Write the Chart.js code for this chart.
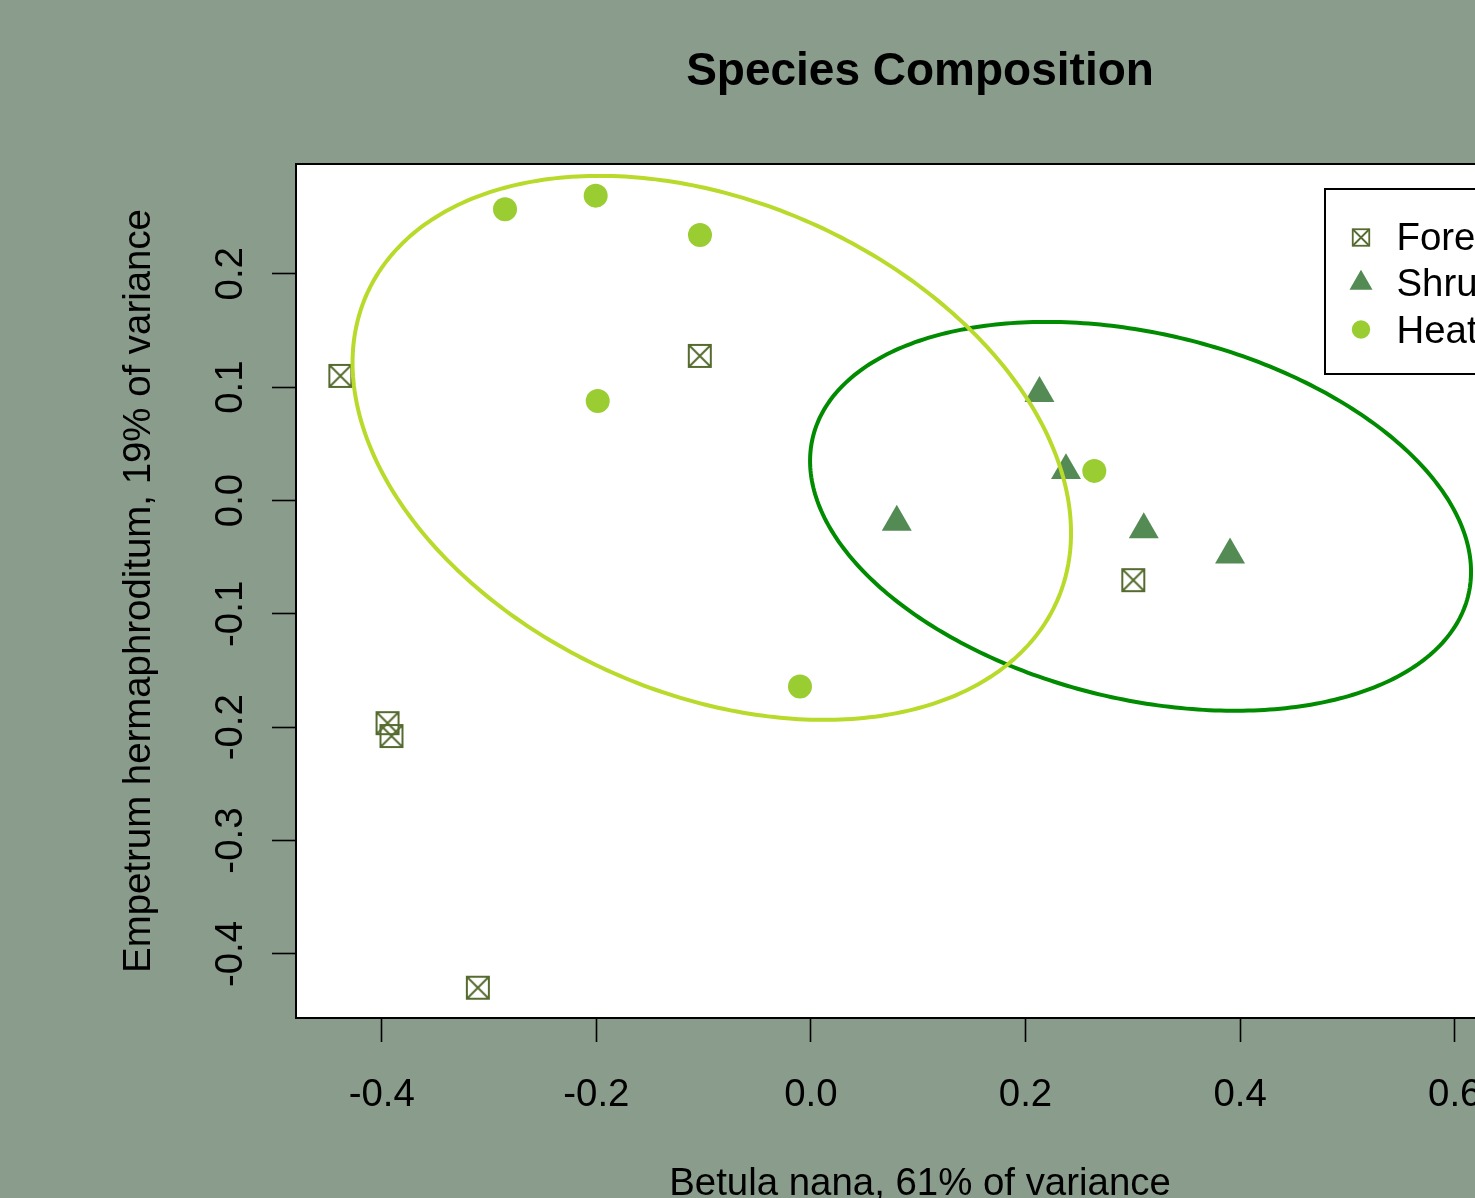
<!DOCTYPE html>
<html><head><meta charset="utf-8">
<script src="https://cdn.jsdelivr.net/npm/chart.js@4.4.1/dist/chart.umd.min.js"></script>
<style>
html,body{margin:0;padding:0;background:#8a9c8c;overflow:hidden;}
#wrap{width:1475px;height:1198px;overflow:hidden;position:relative;background:#8a9c8c;}
canvas{display:block;}
</style></head><body>
<div id="wrap"><canvas id="c" width="1640" height="1198" style="width:1640px;height:1198px"></canvas></div>
<script>
// ---------- data ----------
const categories = ['Forest', 'Shrub', 'Heath'];

const forestX = [-0.4386, -0.1036, -0.3946, -0.3909, -0.3104, 0.3004];
const forestY = [0.1099, 0.1275, -0.1964, -0.2078, -0.4298, -0.0703];

const shrubX = [0.2130, 0.2377, 0.0800, 0.3102, 0.3906];
const shrubY = [0.0946, 0.0265, -0.0191, -0.0256, -0.0480];

const heathX = [-0.2851, -0.2006, -0.1034, -0.1987, -0.0102, 0.2641];
const heathY = [0.2569, 0.2689, 0.2342, 0.0878, -0.1641, 0.0261];

// ellipse parameters (data units): centre, x half-width, tilt and minor term
const ellipseGroups = ['Shrub', 'Heath'];
const ellipseCx = [0.3072, -0.0924];
const ellipseCy = [-0.0140, 0.0464];
const ellipseA = [0.3080, 0.3348];
const ellipseB = [-0.0489, -0.0750];
const ellipseC = [0.1644, 0.2279];

const xTicks = [-0.4, -0.2, 0.0, 0.2, 0.4, 0.6];
const xTickLabels = ['-0.4', '-0.2', '0.0', '0.2', '0.4', '0.6'];
const yTicks = [-0.4, -0.3, -0.2, -0.1, 0.0, 0.1, 0.2];
const yTickLabels = ['-0.4', '-0.3', '-0.2', '-0.1', '0.0', '0.1', '0.2'];

const titleText = 'Species Composition';
const xTitle = 'Betula nana, 61% of variance';
const yTitle = 'Empetrum hermaphroditum, 19% of variance';

// ---------- styles ----------
const FONT = '"Liberation Sans", Arial, Helvetica, sans-serif';
const FOREST = '#556B2F';
const SHRUB = '#548B54';
const HEATH = '#9ACD32';
const ELLIPSE_COL = {Shrub: '#008B00', Heath: '#B8DA2A'};

function drawBoxX(ctx, x, y, s, lw, color) {
  ctx.save();
  ctx.strokeStyle = color; ctx.lineWidth = lw;
  const h = s / 2;
  ctx.strokeRect(x - h, y - h, s, s);
  ctx.beginPath();
  ctx.moveTo(x - h, y - h); ctx.lineTo(x + h, y + h);
  ctx.moveTo(x + h, y - h); ctx.lineTo(x - h, y + h);
  ctx.stroke();
  ctx.restore();
}
function makeBoxXImage(side, lw, color) {
  const pad = Math.ceil(lw);
  const size = side + 2 * pad;
  const cv = document.createElement('canvas');
  cv.width = size; cv.height = size;
  drawBoxX(cv.getContext('2d'), size / 2, size / 2, side, lw, color);
  return cv;
}
function drawTri(ctx, x, y, r, color) {
  ctx.save(); ctx.fillStyle = color; ctx.beginPath();
  let a = 0;
  for (let k = 0; k < 3; k++) {
    const px = x + Math.sin(a) * r, py = y - Math.cos(a) * r;
    if (k === 0) ctx.moveTo(px, py); else ctx.lineTo(px, py);
    a += 2 * Math.PI / 3;
  }
  ctx.closePath(); ctx.fill(); ctx.restore();
}
function drawDot(ctx, x, y, r, color) {
  ctx.save(); ctx.fillStyle = color; ctx.beginPath();
  ctx.arc(x, y, r, 0, Math.PI * 2); ctx.fill(); ctx.restore();
}

const forestImg = makeBoxXImage(22, 2, FOREST);

const rPlot = {
  id: 'rPlot',
  beforeDraw(chart) {
    const {ctx, chartArea: a} = chart;
    ctx.save();
    ctx.fillStyle = '#ffffff';
    ctx.fillRect(a.left, a.top, a.right - a.left, a.bottom - a.top);
    ctx.restore();
  },
  afterDatasetsDraw(chart) {
    const {ctx, chartArea: a, scales} = chart;
    const xs = scales.x, ys = scales.y;
    // ellipses
    ctx.save();
    ctx.beginPath(); ctx.rect(a.left, a.top, a.right - a.left, a.bottom - a.top); ctx.clip();
    ellipseGroups.forEach((g, i) => {
      ctx.beginPath();
      const N = 360;
      for (let k = 0; k <= N; k++) {
        const t = k / N * Math.PI * 2;
        const vx = ellipseCx[i] + ellipseA[i] * Math.cos(t);
        const vy = ellipseCy[i] + ellipseB[i] * Math.cos(t) + ellipseC[i] * Math.sin(t);
        const px = xs.getPixelForValue(vx), py = ys.getPixelForValue(vy);
        if (k === 0) ctx.moveTo(px, py); else ctx.lineTo(px, py);
      }
      ctx.closePath();
      ctx.strokeStyle = ELLIPSE_COL[g];
      ctx.lineWidth = 4;
      ctx.stroke();
    });
    ctx.restore();

    // box
    ctx.save();
    ctx.strokeStyle = '#000'; ctx.lineWidth = 2;
    ctx.strokeRect(a.left, a.top, a.right - a.left, a.bottom - a.top);
    ctx.restore();

    // tick labels
    ctx.save();
    ctx.fillStyle = '#000';
    ctx.font = '38.4px ' + FONT;
    ctx.textAlign = 'center';
    ctx.textBaseline = 'alphabetic';
    xs.ticks.forEach((t, i) => {
      ctx.fillText(xTickLabels[i], xs.getPixelForValue(t.value), 1106);
    });
    ys.ticks.forEach((t, i) => {
      ctx.save();
      ctx.translate(242, ys.getPixelForValue(t.value));
      ctx.rotate(-Math.PI / 2);
      ctx.fillText(yTickLabels[i], 0, 0);
      ctx.restore();
    });
    // axis titles
    const cx = (a.left + a.right) / 2, cy = (a.top + a.bottom) / 2;
    ctx.fillText(xTitle, cx, 1195);
    ctx.save();
    ctx.translate(150, cy);
    ctx.rotate(-Math.PI / 2);
    ctx.fillText(yTitle, 0, 0);
    ctx.restore();
    // main title
    ctx.font = 'bold 46px ' + FONT;
    ctx.fillText(titleText, cx, 85);
    ctx.restore();

    // legend
    ctx.save();
    const lx = 1325, ly = 189, lw = 182, lh = 185;
    ctx.fillStyle = '#fff';
    ctx.fillRect(lx, ly, lw, lh);
    ctx.strokeStyle = '#000'; ctx.lineWidth = 2;
    ctx.strokeRect(lx, ly, lw, lh);
    ctx.font = '38.4px ' + FONT;
    ctx.fillStyle = '#000';
    ctx.textAlign = 'left';
    ctx.textBaseline = 'alphabetic';
    chart.data.datasets.forEach((ds, i) => {
      const rc = 236.5 + 46.5 * i;
      const mx = 1361;
      if (i === 0) drawBoxX(ctx, mx, rc + 1, 16.5, 1.8, FOREST);
      else if (i === 1) drawTri(ctx, mx, rc, 13.3, SHRUB);
      else drawDot(ctx, mx, rc, 9.2, HEATH);
      ctx.fillStyle = '#000';
      ctx.fillText(ds.label, 1396.5, rc + 13.3);
    });
    ctx.restore();
  }
};

const gridCfg = {
  display: true, drawOnChartArea: false, drawTicks: true,
  tickLength: 24, tickWidth: 1.6, tickColor: '#000'
};

new Chart(document.getElementById('c'), {
  type: 'scatter',
  data: {
    datasets: [
      {
        label: categories[0],
        data: forestX.map((x, i) => ({x, y: forestY[i]})),
        pointStyle: forestImg, pointRadius: 12, borderWidth: 0
      },
      {
        label: categories[1],
        data: shrubX.map((x, i) => ({x, y: shrubY[i]})),
        pointStyle: 'triangle', pointRadius: 17.3,
        backgroundColor: SHRUB, borderColor: SHRUB, borderWidth: 0
      },
      {
        label: categories[2],
        data: heathX.map((x, i) => ({x, y: heathY[i]})),
        pointStyle: 'circle', pointRadius: 12,
        backgroundColor: HEATH, borderColor: HEATH, borderWidth: 0
      }
    ]
  },
  options: {
    responsive: false,
    animation: false,
    events: [],
    layout: {autoPadding: false, padding: {left: 0, top: 164, right: 96, bottom: 0}},
    plugins: {legend: {display: false}, tooltip: {enabled: false}, title: {display: false}},
    scales: {
      x: {
        type: 'linear', position: 'bottom', min: -0.4799, max: 0.6832,
        afterBuildTicks: s => { s.ticks = xTicks.map(v => ({value: v})); },
        afterFit: s => { s.height = 180; },
        ticks: {display: false},
        grid: gridCfg, border: {display: false}
      },
      y: {
        type: 'linear', position: 'left', min: -0.4565, max: 0.2968,
        afterBuildTicks: s => { s.ticks = yTicks.map(v => ({value: v})); },
        afterFit: s => { s.width = 296; },
        ticks: {display: false},
        grid: gridCfg, border: {display: false}
      }
    }
  },
  plugins: [rPlot]
});
</script></body></html>
